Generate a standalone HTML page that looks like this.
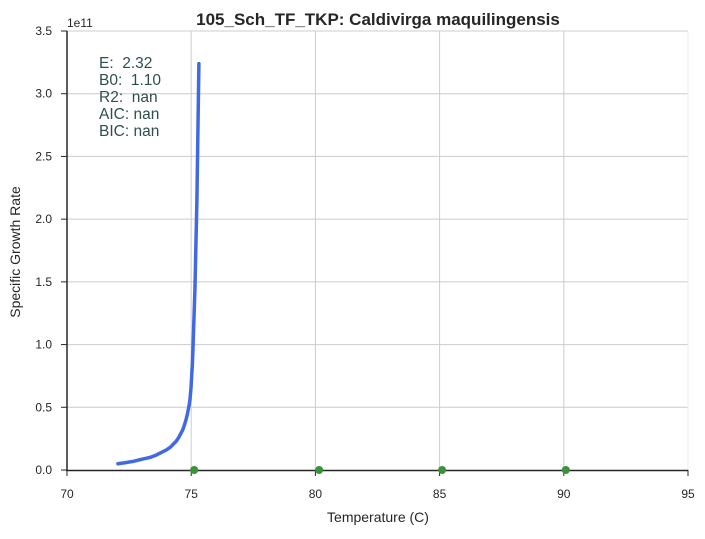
<!DOCTYPE html>
<html><head><meta charset="utf-8"><style>
body{margin:0;background:#fff;font-family:"Liberation Sans",sans-serif;}
text{white-space:pre;}
</style></head><body>
<svg width="705" height="534" font-family="Liberation Sans, sans-serif">
<g id="grid"></g>
<g id="axes"></g>
<g id="marks"></g>
<text x="378" y="25" text-anchor="middle" font-size="17" font-weight="bold" fill="#262626">105_Sch_TF_TKP: Caldivirga maquilingensis</text>
<text x="378" y="522" text-anchor="middle" font-size="14" fill="#262626">Temperature (C)</text>
<text transform="translate(20,252) rotate(-90)" text-anchor="middle" font-size="14" fill="#262626">Specific Growth Rate</text>
<text x="67" y="27" font-size="12" fill="#262626">1e11</text>
<g font-size="15.5" fill="#2f4f4f" xml:space="preserve">
<text x="99" y="68">E:  2.32</text><text x="99" y="85">B0:  1.10</text><text x="99" y="102">R2:  nan</text><text x="99" y="119">AIC: nan</text><text x="99" y="136">BIC: nan</text>
</g>
</svg>
<script>
const xTicks=[70,75,80,85,90,95];
const yTicks=[0,0.5,1.0,1.5,2.0,2.5,3.0,3.5];
const curveT=[72.05,72.4,72.7,73.0,73.34,73.6,73.8,74.0,74.15,74.3,74.4,74.5,74.58,74.66,74.73,74.79,74.84,74.88,74.92,74.95,74.99,75.02,75.05,75.07,75.11,75.15,75.19,75.23,75.27,75.31];
const curveY=[0.05,0.06,0.07,0.085,0.10,0.12,0.14,0.16,0.18,0.21,0.23,0.26,0.29,0.32,0.36,0.40,0.44,0.48,0.52,0.56,0.65,0.75,0.86,0.96,1.2,1.44,1.8,2.15,2.7,3.24];
const obsT=[75.12,80.15,85.1,90.08];
const obsY=[0,0,0,0];
const X=v=>67+(v-70)*(621/25), Y=v=>470-v*(439/3.5);
const ns='http://www.w3.org/2000/svg';
function mk(tag,attrs,parent){const e=document.createElementNS(ns,tag);for(const k in attrs)e.setAttribute(k,attrs[k]);document.getElementById(parent).appendChild(e);return e;}
xTicks.forEach(t=>{
 if(t>70){const g=mk('line',{x1:X(t),x2:X(t),y1:31,y2:470,stroke:'#cccccc','stroke-width':1},'grid');
 
 }
 const k=mk('line',{x1:X(t),x2:X(t),y1:470,y2:476,stroke:'#262626'},'axes');
 
 
 const l=mk('text',{x:X(t),y:498,'text-anchor':'middle','font-size':12,fill:'#262626'},'axes');l.textContent=t;
 
 
});
yTicks.forEach(t=>{
 if(t>0){const g=mk('line',{x1:67,x2:688,y1:Y(t),y2:Y(t),stroke:'#cccccc','stroke-width':1},'grid');
 
 }
 const k=mk('line',{x1:61,x2:67,y1:Y(t),y2:Y(t),stroke:'#262626'},'axes');
 
 
 const l=mk('text',{x:52,y:Y(t)+4,'text-anchor':'end','font-size':12,fill:'#262626'},'axes');l.textContent=t.toFixed(1);
 
 
});
const rs=mk('line',{x1:688,x2:688,y1:31,y2:470,stroke:'#eeeeee'},'grid');


const ya=mk('line',{x1:67,x2:67,y1:31,y2:471,stroke:'#262626','stroke-width':1.5},'axes');


const xa=mk('line',{x1:66,x2:688,y1:470.5,y2:470.5,stroke:'#262626','stroke-width':1.5},'axes');


const p=mk('path',{d:curveT.map((t,i)=>(i?'L':'M')+X(t)+','+Y(curveY[i])).join(''),fill:'none',stroke:'#4169e1','stroke-width':3.5,'stroke-linecap':'round','stroke-linejoin':'round'},'marks');


obsT.forEach((t,i)=>{
 const c=mk('circle',{cx:X(t),cy:Y(obsY[i]),r:4,fill:'#3a923a'},'marks');
 
 
});
</script>
</body></html>
